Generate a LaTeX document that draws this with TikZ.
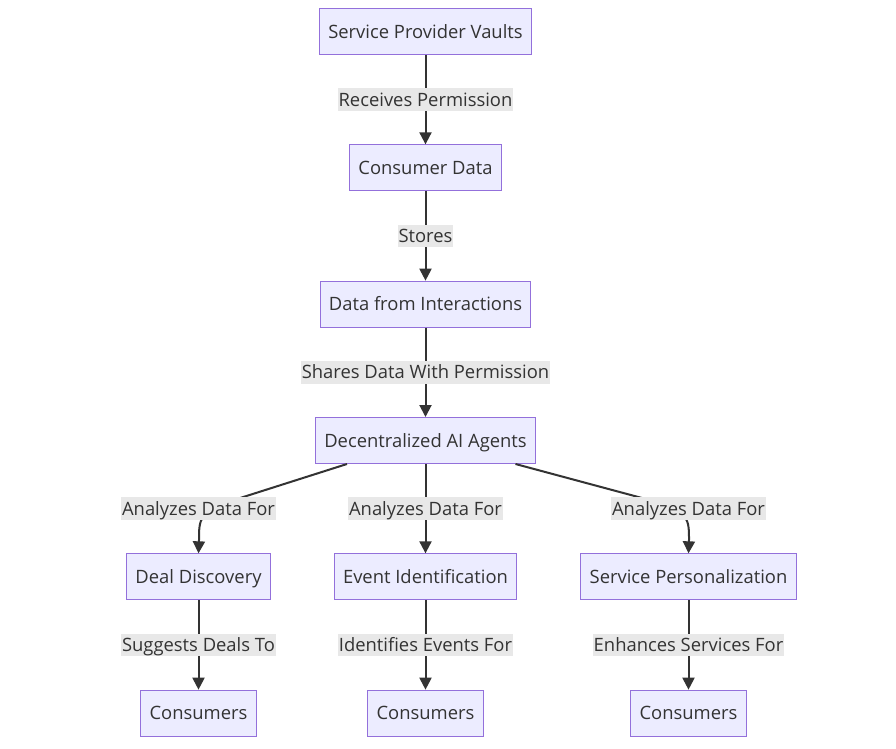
\documentclass[tikz,border=0pt]{standalone}
\usepackage{fontspec}
\setmainfont{Open Sans}
\usetikzlibrary{positioning,arrows.meta}
\definecolor{boxfill}{HTML}{ECECFF}
\definecolor{boxline}{HTML}{9370DB}
\definecolor{edgeline}{HTML}{333333}
\definecolor{labelfill}{HTML}{E8E8E8}
\tikzset{
  box/.style={draw=boxline, fill=boxfill, text=edgeline, line width=0.75pt,
    minimum height=34.5pt, inner xsep=6.5pt, text height=12pt, text depth=2.2pt,
    font=\fontsize{13.8}{16}\selectfont},
  lbl/.style={fill=labelfill, text=edgeline, inner xsep=0.5pt, inner ysep=1.5pt,
    text height=12pt, text depth=2.2pt, font=\fontsize{13.8}{16}\selectfont},
  arr/.style={draw=edgeline, line width=1.5pt, -{Triangle[length=9pt,width=9pt]}},
}
\begin{document}
\begin{tikzpicture}[x=0.75pt, y=-0.75pt]
      \useasboundingbox (0,0) rectangle (896,749);
      \node[box] (vaults) at (425.5,31.5) {Service Provider Vaults};
      \node[box, below=67pt of vaults] (data) {Consumer Data};
      \node[box, below=67pt of data] (inter) {Data from Interactions};
      \node[box, below=67pt of inter] (agents) {Decentralized AI Agents};
      \node[box, below=67pt of agents] (event) {Event Identification};
      \node[box, below=67pt of agents, xshift=-170.25pt] (deal) {Deal Discovery};
      \node[box, below=67pt of agents, xshift=197.25pt] (service) {Service Personalization};
      \node[box, below=67pt of deal] (cons1) {Consumers};
      \node[box, below=67pt of event] (cons2) {Consumers};
      \node[box, below=67pt of service] (cons3) {Consumers};
      \draw[arr] (vaults) -- (data) node[lbl, midway] {Receives Permission};
      \draw[arr] (data) -- (inter) node[lbl, midway] {Stores};
      \draw[arr] (inter) -- (agents) node[lbl, midway] {Shares Data With Permission};
      \draw[arr] (agents) -- (event) node[lbl, midway] (eventfor) {Analyzes Data For};
      \draw[arr] ([xshift=-58.9pt]agents.south) -- (232,500.6)
        .. controls (199,511) and (199,520) .. (199,540) -- (deal.north);
      \draw[arr] ([xshift=67.5pt]agents.south) -- (655,501.5)
        .. controls (689,511) and (689,520) .. (689,540) -- (service.north);
      \node[lbl] (dealfor) at (eventfor -| deal) {Analyzes Data For};
      \node[lbl] (servicefor) at (eventfor -| service) {Analyzes Data For};
      \draw[arr] (deal) -- (cons1) node[lbl, midway] {Suggests Deals To};
      \draw[arr] (event) -- (cons2) node[lbl, midway] {Identifies Events For};
      \draw[arr] (service) -- (cons3) node[lbl, midway] {Enhances Services For};
\end{tikzpicture}
\end{document}
